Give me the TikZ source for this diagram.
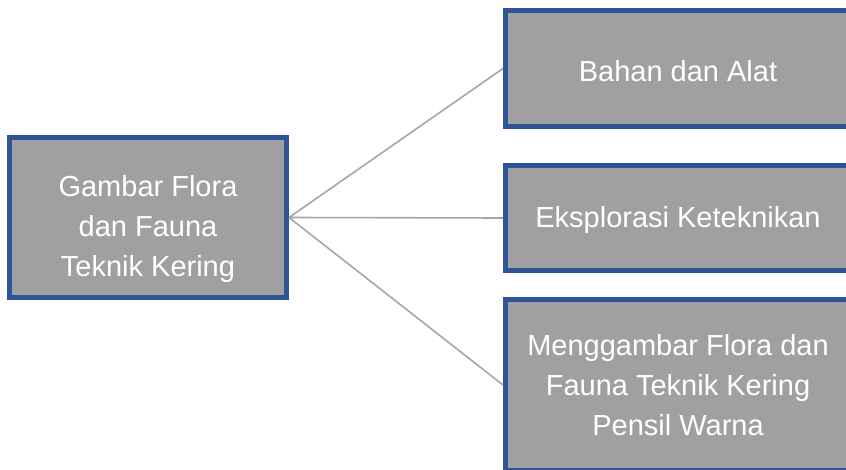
\documentclass[tikz,border=0pt]{standalone}
\usepackage{fontspec}
\setmainfont{Liberation Sans}
\usepackage{xcolor}
\definecolor{boxgray}{HTML}{A0A0A0}
\definecolor{boxblue}{HTML}{2F5597}
\definecolor{linegray}{HTML}{A6A6A6}
\usetikzlibrary{positioning}
% move text down inside a box, keeping the box size
\newcommand{\lowered}[3]{\raisebox{-#1}[\height][\depth]{\parbox[c]{#2}{\centering #3}}}

\begin{document}
\begin{tikzpicture}[x=0.75pt,y=-0.75pt,
    box/.style={draw=boxblue,fill=boxgray,line width=3.75pt,text=white,align=center,
                inner sep=0pt,font=\fontsize{21.75pt}{30pt}\selectfont},
    link/.style={draw=linegray,line width=1.2pt}]
    \useasboundingbox (0,0) rectangle (846,470);
    \clip (0,0) rectangle (846,470);

    \node[box,minimum width=207.75pt,minimum height=120pt] (src) at (148,217.5)
        {\lowered{9pt}{190pt}{Gambar Flora\\dan Fauna\\Teknik Kering}};

    \node[box,minimum width=258.75pt,minimum height=87pt] (alat) at (678,68.5)
        {\lowered{2.25pt}{240pt}{Bahan dan Alat}};
    \node[box,minimum width=258.75pt,minimum height=78.75pt] (eksp) at (678,218)
        {\lowered{1.5pt}{240pt}{Eksplorasi Keteknikan}};
    \node[box,minimum width=258.75pt,minimum height=127.5pt] (gambar) at (678,385)
        {Menggambar Flora dan\\Fauna Teknik Kering\\Pensil Warna};

    \path[link] (src.east) -- (alat.west)
                (src.east) -- (eksp.west)
                (src.east) -- (gambar.west);
\end{tikzpicture}
\end{document}
